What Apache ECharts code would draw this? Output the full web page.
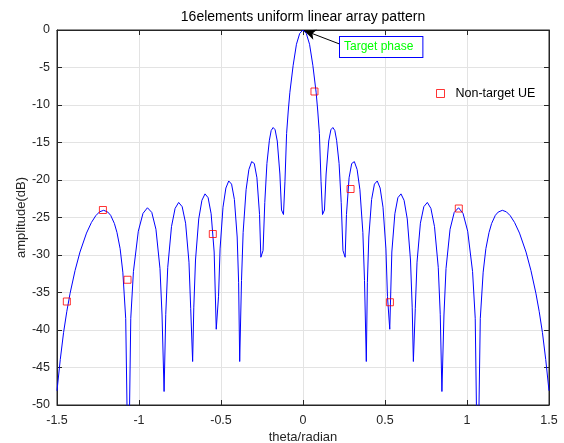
<!DOCTYPE html>
<html>
<head>
<meta charset="utf-8">
<title>16elements uniform linear array pattern</title>
<script src="https://cdn.jsdelivr.net/npm/echarts@6/dist/echarts.min.js"></script>
<style>
  html, body { margin: 0; padding: 0; background: #fff; }
  #main { width: 564px; height: 443px; }
</style>
</head>
<body>
<div id="main"></div>
<script>
// 方向图数据 (theta 弧度, 幅度 dB)
var thetaVals = [
  -1.5, -1.48, -1.46, -1.44, -1.42, -1.39, -1.36, -1.3202, -1.29, -1.2634,
  -1.24, -1.2154, -1.19, -1.1728, -1.15, -1.1343, -1.115, -1.0986, -1.081, -1.065,
  -1.0502, -1.034, -1.0042, -0.9757, -0.9485, -0.9221, -0.8967, -0.872, -0.8595, -0.847,
  -0.8368, -0.8247, -0.8019, -0.780, -0.7581, -0.7367, -0.7158, -0.6953, -0.6848, -0.673,
  -0.6658, -0.6554, -0.6357, -0.6164, -0.5974, -0.5786, -0.5602, -0.5417, -0.529,
  -0.515, -0.5057, -0.4879, -0.4702, -0.4528, -0.4355, -0.4183, -0.4013, -0.3925, -0.386,
  -0.375, -0.365, -0.347, -0.330, -0.313, -0.297, -0.281, -0.265, -0.257,
  -0.2436, -0.233, -0.220, -0.205, -0.194, -0.182, -0.170, -0.157, -0.141, -0.131,
  -0.119, -0.11, -0.10, -0.09, -0.08, -0.06, -0.04, -0.02,
  0,
  0.02, 0.04, 0.06, 0.08, 0.09, 0.10, 0.11, 0.119,
  0.131, 0.141, 0.157, 0.170, 0.182, 0.194, 0.205, 0.220, 0.233, 0.2436,
  0.257, 0.265, 0.281, 0.297, 0.313, 0.330, 0.347, 0.365, 0.375,
  0.386, 0.3925, 0.4013, 0.4183, 0.4355, 0.4528, 0.4702, 0.4879, 0.5057, 0.515,
  0.529, 0.5417, 0.5602, 0.5786, 0.5974, 0.6164, 0.6357, 0.6554, 0.6658,
  0.673, 0.6848, 0.6953, 0.7158, 0.7367, 0.7581, 0.780, 0.8019, 0.8247, 0.8368,
  0.847, 0.8595, 0.872, 0.8967, 0.9221, 0.9485, 0.9757, 1.0042, 1.034, 1.0502,
  1.065, 1.081, 1.0986, 1.115, 1.1343, 1.15, 1.1728, 1.19, 1.2154, 1.24,
  1.2634, 1.29, 1.3202, 1.36, 1.39, 1.42, 1.44, 1.46, 1.48, 1.5
];
var ampVals = [
  -48.1, -43.94, -40.35, -37.5, -35.09, -32.08, -29.61, -27.08, -25.66, -24.75,
  -24.24, -24.04, -24.28, -24.71, -25.8, -27.0, -29.16, -32.29, -38.48, -62,
  -38.44, -32.21, -26.83, -24.45, -23.7, -24.32, -26.57, -31.82, -38.0, -48.2,
  -37.9, -31.64, -26.22, -23.79, -22.99, -23.56, -25.76, -30.96, -37.1, -44.2,
  -36.96, -30.67, -25.19, -22.71, -21.85, -22.36, -24.5, -29.6, -39.9,
  -35.5, -29.19, -23.63, -21.07, -20.13, -20.55, -22.6, -27.6, -33.7, -44.2,
  -33.4, -27.0, -21.3, -18.6, -17.55, -17.8, -19.7, -24.6, -30.3,
  -29.4, -23.0, -17.8, -14.7, -13.4, -13.0, -13.3, -14.8, -19.2, -24.0,
  -24.6, -20.2, -13.8, -10.8, -8.3, -4.7, -1.9, -0.45,
  0,
  -0.45, -1.9, -4.7, -8.3, -10.8, -13.8, -20.2, -24.6,
  -24.0, -19.2, -14.8, -13.3, -13.0, -13.4, -14.7, -17.8, -23.0, -29.4,
  -30.3, -24.6, -19.7, -17.8, -17.55, -18.6, -21.3, -27.0, -33.4,
  -44.2, -33.7, -27.6, -22.6, -20.55, -20.13, -21.07, -23.63, -29.19, -35.5,
  -39.9, -29.6, -24.5, -22.36, -21.85, -22.71, -25.19, -30.67, -36.96,
  -44.2, -37.1, -30.96, -25.76, -23.56, -22.99, -23.79, -26.22, -31.64, -37.9,
  -48.2, -38.0, -31.82, -26.57, -24.32, -23.7, -24.45, -26.83, -32.21, -38.44,
  -62, -38.48, -32.29, -29.16, -27.0, -25.8, -24.71, -24.28, -24.04, -24.24,
  -24.75, -25.66, -27.08, -29.61, -32.08, -35.09, -37.5, -40.35, -43.94, -48.1
];

// 非目标用户
var ueTheta = [-1.44, -1.22, -1.07, -0.55, 0.07, 0.29, 0.53, 0.95];
var ueAmp = [-36.2, -24.0, -33.3, -27.2, -8.2, -21.2, -36.3, -23.8];

// 坐标轴刻度
var xTicks = [-1.5, 1.5, 0.5];   // min, max, interval
var yTicks = [-50, 0, 5];

var patternData = thetaVals.map(function (t, i) { return [t, ampVals[i]]; });
var ueData = ueTheta.map(function (t, i) { return [t, ueAmp[i]]; });

var FONT = '"Liberation Sans", Arial, Helvetica, sans-serif';
var AXIS_COLOR = '#262626';
var GRID_COLOR = '#e3e3e3';

var myChart = echarts.init(document.getElementById('main'));

var option = {
  animation: false,
  backgroundColor: '#ffffff',
  title: {
    text: '16elements uniform linear array pattern',
    left: 303,
    textAlign: 'center',
    top: 10,
    padding: 0,
    textStyle: { fontFamily: FONT, fontSize: 14, fontWeight: 'normal', color: '#000' }
  },
  legend: {
    data: [{ name: 'Non-target UE', icon: 'rect' }],
    left: 436,
    top: 87,
    padding: 0,
    itemWidth: 8,
    itemHeight: 8,
    selectedMode: false,
    itemStyle: { color: 'rgba(0,0,0,0)', borderColor: '#ff0000', borderWidth: 1 },
    textStyle: { fontFamily: FONT, fontSize: 12.5, color: '#000', padding: [0, 0, 0, 6] }
  },
  grid: {
    left: 57, right: 15, top: 30, bottom: 38,
    show: true, borderColor: AXIS_COLOR, borderWidth: 1,
    containLabel: false,
    outerBoundsMode: 'none'
  },
  xAxis: [{
    type: 'value',
    min: xTicks[0], max: xTicks[1], interval: xTicks[2],
    name: 'theta/radian',
    nameLocation: 'middle',
    nameGap: 26,
    nameMoveOverlap: false,
    nameTextStyle: { fontFamily: FONT, fontSize: 13, color: AXIS_COLOR },
    axisLine: { show: true, onZero: false, lineStyle: { color: AXIS_COLOR } },
    axisTick: { show: true, inside: true, length: 5, lineStyle: { color: AXIS_COLOR } },
    axisLabel: { fontFamily: FONT, fontSize: 12.5, color: AXIS_COLOR, margin: 9 },
    splitLine: { show: true, lineStyle: { color: GRID_COLOR } }
  }, {
    type: 'value', position: 'top',
    min: xTicks[0], max: xTicks[1], interval: xTicks[2],
    axisLine: { show: true, onZero: false, lineStyle: { color: AXIS_COLOR } },
    axisTick: { show: true, inside: true, length: 5, lineStyle: { color: AXIS_COLOR } },
    axisLabel: { show: false },
    splitLine: { show: false }
  }],
  yAxis: [{
    type: 'value',
    min: yTicks[0], max: yTicks[1], interval: yTicks[2],
    name: 'amplitude(dB)',
    nameLocation: 'middle',
    nameGap: 29,
    nameMoveOverlap: false,
    nameTextStyle: { fontFamily: FONT, fontSize: 13, color: AXIS_COLOR },
    axisLine: { show: true, onZero: false, lineStyle: { color: AXIS_COLOR } },
    axisTick: { show: true, inside: true, length: 5, lineStyle: { color: AXIS_COLOR } },
    axisLabel: { fontFamily: FONT, fontSize: 12.5, color: AXIS_COLOR, margin: 7 },
    splitLine: { show: true, lineStyle: { color: GRID_COLOR } }
  }, {
    type: 'value', position: 'right',
    min: yTicks[0], max: yTicks[1], interval: yTicks[2],
    axisLine: { show: true, onZero: false, lineStyle: { color: AXIS_COLOR } },
    axisTick: { show: true, inside: true, length: 5, lineStyle: { color: AXIS_COLOR } },
    axisLabel: { show: false },
    splitLine: { show: false }
  }],
  series: [{
    name: 'pattern',
    type: 'line',
    data: patternData,
    showSymbol: false,
    symbol: 'none',
    clip: true,
    lineStyle: { color: '#0000ff', width: 1 },
    emphasis: { disabled: true },
    markLine: {
      silent: true,
      symbol: ['none', 'arrow'],
      symbolSize: [8, 12],
      label: { show: false },
      emphasis: { disabled: true },
      lineStyle: { color: '#000', width: 1, type: 'solid' },
      data: [[{ coord: [0.227, -1.9] }, { coord: [0.006, -0.05] }]]
    }
  }, {
    name: 'Non-target UE',
    type: 'scatter',
    data: ueData,
    symbol: 'rect',
    symbolSize: 7,
    z: 5,
    itemStyle: { color: 'rgba(0,0,0,0)', borderColor: '#ff0000', borderWidth: 1 },
    emphasis: { disabled: true }
  }],
  graphic: [{
    type: 'text',
    left: 339,
    top: 36,
    z: 10,
    style: {
      text: 'Target phase',
      fill: '#00ff00',
      font: '12px ' + FONT,
      backgroundColor: '#ffffff',
      borderColor: '#0000ff',
      borderWidth: 1,
      padding: [4, 9, 4, 4]
    }
  }]
};

myChart.setOption(option);
</script>
</body>
</html>
